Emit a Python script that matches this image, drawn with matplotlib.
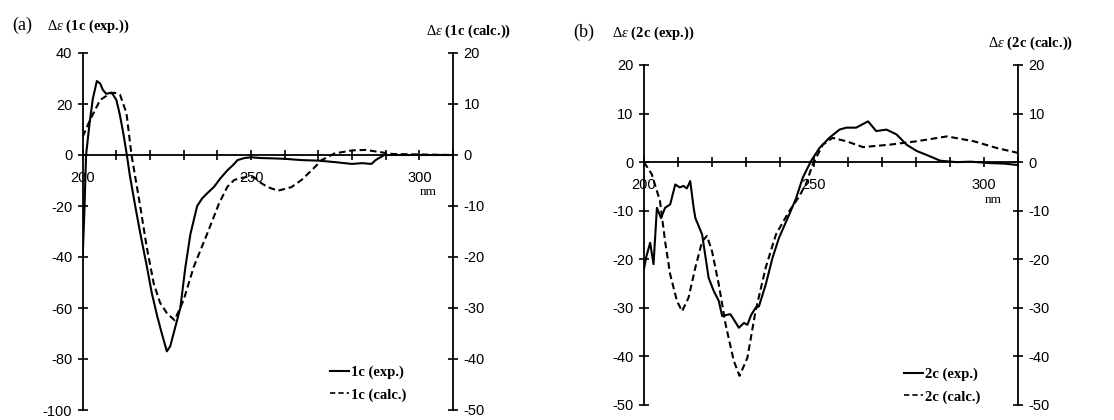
import matplotlib
matplotlib.use("Agg")
import matplotlib.pyplot as plt
from matplotlib.ticker import FixedLocator, FuncFormatter
from matplotlib.lines import Line2D

# CD spectra (nm, delta epsilon)
a_exp_nm = [200, 200.5, 201, 202, 203, 204.2, 205.2, 206, 207, 208.6, 210, 211, 212, 213, 214,
            215.6, 217, 219.1, 220.5, 222.1, 223.5, 225, 226, 227, 228, 229, 230.5, 232, 234,
            235.5, 237, 239, 241, 243, 245, 246, 248, 250, 253, 256, 260, 265, 270, 275, 280,
            283, 285.8, 287, 289.6, 292, 300, 310]
a_exp = [-40, -22, 0, 12, 22, 29, 28, 25.5, 24, 24.5, 21.6, 16, 9, 1, -8,
         -20, -30, -44, -54, -63, -70, -77, -75, -70, -65, -60, -44, -31, -20,
         -17, -15, -12.5, -9, -6, -3.5, -2, -1.2, -0.9, -1.2, -1.3, -1.5, -2, -2.2, -2.8, -3.5,
         -3.2, -3.5, -2, 0, 0, 0, 0]

a_calc_nm = [200, 202.2, 205.2, 208.2, 209.5, 211.1, 213, 214.5, 217.1, 219, 221.1, 223, 225,
             227.3, 230, 233, 237, 240.5, 243, 245, 247, 249, 251, 253, 255, 258, 262, 265, 268,
             271, 274.8, 280, 284, 288, 292, 300, 310]
a_calc = [3.6, 6.9, 10.8, 12.1, 12.2, 11.8, 8.2, 0, -10.1, -18, -25.2, -29, -31,
          -32.4, -28.4, -21.9, -15.4, -9.5, -6.2, -4.9, -4.5, -4.3, -4.4, -5.5, -6.3, -7.0, -6.3, -4.9, -3,
          -1, 0.3, 0.9, 1.0, 0.6, 0.2, 0.1, 0]

b_exp_nm = [200, 200.6, 201.8, 202.8, 203.8, 205, 206.2, 207.7, 209.2, 210.5, 211.6, 212.6, 213.6,
            214.6, 215.1, 217.1, 219, 220.5, 222, 223, 224, 225.4, 226.5, 227.9, 229.4, 230.4,
            231.5, 232.8, 233.8, 235.8, 237.8, 239.7, 242.7, 244.7, 246.7, 249.1, 251.6, 254.5,
            257.5, 259.5, 262.4, 265.9, 268.3, 271.3, 274.3, 277.2, 280.2, 284.1, 287.1, 292,
            296, 301.8, 306, 310]
b_exp = [-22, -19.7, -16.6, -21, -9.4, -11.5, -9.4, -8.7, -4.6, -5.2, -4.9, -5.4, -3.9,
         -9.4, -11.5, -14.9, -23.8, -26.5, -28.6, -31.7, -31.5, -31.3, -32.5, -34.1, -33.1, -33.5,
         -31.5, -30, -29.7, -25.2, -19.7, -15.6, -10.8, -7.5, -3.2, 0.2, 2.9, 5.0,
         6.7, 7.1, 7.1, 8.4, 6.4, 6.7, 5.7, 3.6, 2.3, 1.2, 0.3, 0,
         0.1, -0.2, -0.3, -0.6]

b_calc_nm = [200, 202.3, 204.7, 206.2, 207.7, 209.7, 211.2, 213.1, 215.1, 217.1, 218.5, 220, 222,
             224, 226.4, 228.1, 230.4, 232.8, 235.8, 238.8, 242.7, 245.5, 247.6, 249.6, 252.6,
             255.5, 259.5, 264.4, 272.3, 280.2, 289.1, 297, 303.8, 310]
b_calc = [0, -2.5, -8.0, -16.3, -23.1, -28.6, -30.7, -27.9, -21.7, -16.3, -15.2, -18.3, -25.2,
          -33.4, -40.9, -44.0, -40.3, -30.7, -21.7, -14.9, -10.1, -7.2, -4.6, -0.5, 3.6,
          5.0, 4.3, 3.1, 3.6, 4.3, 5.3, 4.3, 2.9, 1.9]

plt.rcParams['axes.unicode_minus'] = False
plt.rcParams['mathtext.fontset'] = 'custom'
plt.rcParams['mathtext.it'] = 'Liberation Serif:italic'
plt.rcParams['mathtext.rm'] = 'Liberation Serif'
plt.rcParams['mathtext.bf'] = 'Liberation Serif:bold'

W, H = 1114, 420
fig = plt.figure(figsize=(W / 100, H / 100), dpi=100)


def px(x0, y0, x1, y1):
    # pixel box (left, top, right, bottom) -> figure rect
    return [x0 / W, 1 - y1 / H, (x1 - x0) / W, (y1 - y0) / H]


def style_panel(ax, ax2, ylim1, yt1, ylim2, yt2, nm_y):
    ax.set_xlim(200, 310)
    ax.set_ylim(*ylim1)
    ax2.set_ylim(*ylim2)
    for s in ['top', 'right']:
        ax.spines[s].set_visible(False)
    for s in ['top', 'left', 'bottom']:
        ax2.spines[s].set_visible(False)
    ax.spines['bottom'].set_position(('data', 0))
    for a in (ax, ax2):
        for s in a.spines.values():
            s.set_linewidth(1.3)
    ax.xaxis.set_major_locator(FixedLocator(list(range(200, 311, 10))))
    ax.xaxis.set_major_formatter(FuncFormatter(lambda v, p: '%d' % v if v % 50 == 0 and v < 310 else ''))
    ax.set_yticks(yt1)
    ax2.set_yticks(yt2)
    ax.tick_params(axis='x', direction='inout', length=7, width=1.2, pad=8, labelsize=10.5)
    ax.tick_params(axis='y', direction='inout', length=7, width=1.2, pad=4, labelsize=10.5)
    ax2.tick_params(axis='y', direction='inout', length=7, width=1.2, pad=4, labelsize=10.5)
    for lab in ax.get_xticklabels() + ax.get_yticklabels() + ax2.get_yticklabels():
        lab.set_fontfamily('Liberation Sans')
    ax.patch.set_visible(False)
    ax.text(302.6, nm_y, 'nm', family='Liberation Serif', fontsize=9.5, ha='center', va='center')


lw = 1.5
dash = (0, (3.2, 1.8))

# panel (a)
ax = fig.add_axes(px(82.7, 53, 453, 410))
ax2 = ax.twinx()
ax2.plot(a_calc_nm, a_calc, color='black', lw=lw, linestyle=dash)
ax.plot(a_exp_nm, a_exp, color='black', lw=lw)
ax.set_zorder(ax2.get_zorder() + 1)
style_panel(ax, ax2, (-100, 40), range(-100, 41, 20), (-50, 20), range(-50, 21, 10), -14.5)

# panel (b)
bx = fig.add_axes(px(644, 65, 1018, 405))
bx2 = bx.twinx()
bx2.plot(b_calc_nm, b_calc, color='black', lw=lw, linestyle=dash)
bx.plot(b_exp_nm, b_exp, color='black', lw=lw)
bx.set_zorder(bx2.get_zorder() + 1)
style_panel(bx, bx2, (-50, 20), range(-50, 21, 10), (-50, 20), range(-50, 21, 10), -7.8)

# titles
de = r'$\mathit{\Delta\varepsilon}$'
tk = dict(family='Liberation Serif', fontweight='bold', fontsize=10.5, va='center')
fig.text(12 / W, 1 - 25 / H, '(a)', family='Liberation Serif', fontsize=13, va='center')
fig.text(47 / W, 1 - 26 / H, de + ' (1c (exp.))', ha='left', **tk)
fig.text(511 / W, 1 - 31 / H, de + ' (1c (calc.))', ha='right', **tk)
fig.text(573 / W, 1 - 32 / H, '(b)', family='Liberation Serif', fontsize=13, va='center')
fig.text(612 / W, 1 - 33 / H, de + ' (2c (exp.))', ha='left', **tk)
fig.text(1073 / W, 1 - 43 / H, de + ' (2c (calc.))', ha='right', **tk)

# legends
handles = [Line2D([], [], color='black', lw=lw), Line2D([], [], color='black', lw=1.2, linestyle=dash)]
for x0, y0, names in [(330, 366, ['1c (exp.)', '1c (calc.)']), (904, 368, ['2c (exp.)', '2c (calc.)'])]:
    fig.legend(handles, names, loc='upper left', bbox_to_anchor=(x0 / W, 1 - y0 / H),
               frameon=False, handlelength=1.3, handletextpad=0.15, labelspacing=0.6,
               borderpad=0, borderaxespad=0,
               prop={'family': 'Liberation Serif', 'weight': 'bold', 'size': 10.5})

fig.savefig('out.png', dpi=100)
